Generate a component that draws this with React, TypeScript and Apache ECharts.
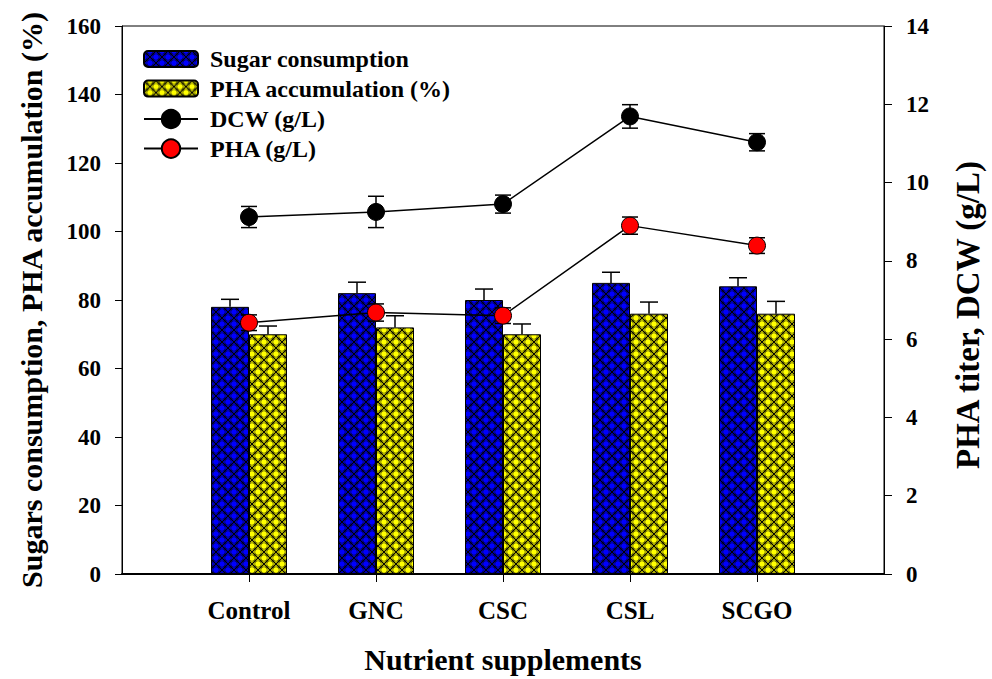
import React, { useEffect, useRef } from 'react';
import * as echarts from 'echarts';

const categories = ['Control', 'GNC', 'CSC', 'CSL', 'SCGO'];
const sugarConsumption = [78, 82, 80, 85, 84];
const sugarConsumptionErr = [2.2, 3.2, 3.2, 3.1, 2.5];
const phaAccumulation = [70, 72, 70, 76, 76];
const phaAccumulationErr = [2.4, 3.4, 3.0, 3.4, 3.6];
const dcw = [9.12, 9.25, 9.45, 11.69, 11.03];
const dcwErr = [0.27, 0.4, 0.23, 0.3, 0.22];
const phaTiter = [6.42, 6.68, 6.6, 8.9, 8.39];
const phaTiterErr = [0.2, 0.22, 0.2, 0.22, 0.2];

const barLegend = ['Sugar consumption', 'PHA accumulation (%)'];
const lineLegend = ['DCW (g/L)', 'PHA (g/L)'];

const leftAxis = { min: 0, max: 160, interval: 20 };
const rightAxis = { min: 0, max: 14, interval: 2 };

const FONT = 'Liberation Serif';

function makePattern(fill: string) {
  const k = 2;
  const s = 12 * k;
  const c = document.createElement('canvas');
  c.width = s;
  c.height = s;
  const ctx = c.getContext('2d')!;
  ctx.fillStyle = fill;
  ctx.fillRect(0, 0, s, s);
  ctx.strokeStyle = '#000';
  ctx.lineWidth = 1.2 * k;
  ctx.beginPath();
  ctx.moveTo(-k, -k);
  ctx.lineTo(s + k, s + k);
  ctx.moveTo(s + k, -k);
  ctx.lineTo(-k, s + k);
  ctx.stroke();
  ctx.lineWidth = 0.7 * k;
  ctx.strokeStyle = 'rgba(0,0,0,0.75)';
  const pts = [[s / 2, 0], [0, s / 2], [s, s / 2], [s / 2, s]];
  pts.forEach(([x, y]) => {
    ctx.beginPath();
    ctx.arc(x, y, 3.2 * k, 0, Math.PI * 2);
    ctx.stroke();
  });
  return { image: c, repeat: 'repeat', scaleX: 1 / k, scaleY: 1 / k };
}

const pad = (arr: number[]) => [null, ...arr, null];

function errRender(offset: number, capHalf: number, both: boolean) {
  return (params: any, api: any) => {
    const x = api.value(0);
    const y = api.value(1);
    const e = api.value(2);
    const pc = api.coord([x, y]);
    const top = api.coord([x, y + e]);
    const bot = api.coord([x, y - e]);
    const cx = pc[0] + offset;
    const style = { stroke: '#000', lineWidth: 1.5 };
    const children: any[] = [
      { type: 'line', shape: { x1: cx, y1: both ? bot[1] : pc[1], x2: cx, y2: top[1] }, style },
      { type: 'line', shape: { x1: cx - capHalf, y1: top[1], x2: cx + capHalf, y2: top[1] }, style },
    ];
    if (both) {
      children.push({ type: 'line', shape: { x1: cx - capHalf, y1: bot[1], x2: cx + capHalf, y2: bot[1] }, style });
    }
    return { type: 'group', children };
  };
}

const errData = (vals: number[], errs: number[]) => vals.map((v, i) => [i + 1, v, errs[i]]);

export default function App() {
  const ref = useRef<HTMLDivElement>(null);
  useEffect(() => {
    if (!ref.current) return;
    const chart = echarts.init(ref.current, null, { renderer: 'svg' });
    const blue = makePattern('#0000ff');
    const yellow = makePattern('#ffff00');
    const paddedCats = ['', ...categories, ''];
    const labelStyle = { fontFamily: FONT, fontWeight: 'bold', color: '#000' };
    const legendBase = {
      left: 138,
      orient: 'vertical',
      itemWidth: 54,
      itemGap: 5.6,
      textStyle: { ...labelStyle, fontSize: 24, padding: [0, 0, 0, 7] },
    };
    const option: any = {
      animation: false,
      textStyle: { fontFamily: FONT },
      grid: { left: 122, right: 107, top: 26, bottom: 102, show: true, borderColor: '#000', borderWidth: 1, containLabel: false },
      legend: [
        { ...legendBase, top: 42, itemHeight: 16, data: barLegend },
        { ...legendBase, top: 102, itemHeight: 23, data: lineLegend },
      ],
      xAxis: {
        type: 'category',
        data: paddedCats,
        boundaryGap: false,
        axisLine: { lineStyle: { color: '#000', width: 2 } },
        axisTick: { interval: (i: number) => i > 0 && i < paddedCats.length - 1, length: 8, lineStyle: { color: '#000', width: 1 } },
        axisLabel: { ...labelStyle, fontSize: 25, margin: 24, interval: 0 },
        splitLine: { show: false },
        name: 'Nutrient supplements',
        nameLocation: 'middle',
        nameGap: 70,
        nameTextStyle: { ...labelStyle, fontSize: 30 },
      },
      yAxis: [
        {
          type: 'value',
          position: 'left',
          ...leftAxis,
          axisLine: { show: true, lineStyle: { color: '#000', width: 1 } },
          axisTick: { show: true, length: 7, lineStyle: { color: '#000' } },
          axisLabel: { ...labelStyle, fontSize: 23, margin: 21 },
          splitLine: { show: false },
          name: 'Sugars consumption, PHA accumulation (%)',
          nameLocation: 'middle',
          nameRotate: 90,
          nameGap: 76,
          nameTextStyle: { ...labelStyle, fontSize: 30 },
        },
        {
          type: 'value',
          position: 'right',
          ...rightAxis,
          axisLine: { show: true, lineStyle: { color: '#000', width: 1 } },
          axisTick: { show: true, length: 8, lineStyle: { color: '#000' } },
          axisLabel: { ...labelStyle, fontSize: 23, margin: 22 },
          splitLine: { show: false },
          name: 'PHA titer, DCW (g/L)',
          nameLocation: 'middle',
          nameRotate: 90,
          nameGap: 67,
          nameTextStyle: { ...labelStyle, fontSize: 33, padding: [0, 30, 0, 0] },
        },
      ],
      series: [
        {
          name: barLegend[0],
          type: 'bar',
          yAxisIndex: 0,
          barWidth: 38,
          barGap: '0%',
          data: pad(sugarConsumption),
          itemStyle: { color: blue, borderColor: '#000', borderWidth: 1 },
          z: 2,
        },
        {
          name: barLegend[1],
          type: 'bar',
          yAxisIndex: 0,
          barWidth: 38,
          barGap: '0%',
          data: pad(phaAccumulation),
          itemStyle: { color: yellow, borderColor: '#000', borderWidth: 1 },
          z: 2,
        },
        {
          name: 'sugarErr',
          type: 'custom',
          yAxisIndex: 0,
          renderItem: errRender(-19, 9, false),
          data: errData(sugarConsumption, sugarConsumptionErr),
          encode: { x: 0, y: 1 },
          z: 3,
        },
        {
          name: 'phaAccErr',
          type: 'custom',
          yAxisIndex: 0,
          renderItem: errRender(19, 9, false),
          data: errData(phaAccumulation, phaAccumulationErr),
          encode: { x: 0, y: 1 },
          z: 3,
        },
        {
          name: 'dcwErr',
          type: 'custom',
          yAxisIndex: 1,
          renderItem: errRender(0, 8, true),
          data: errData(dcw, dcwErr),
          encode: { x: 0, y: 1 },
          z: 4,
        },
        {
          name: 'phaTiterErr',
          type: 'custom',
          yAxisIndex: 1,
          renderItem: errRender(0, 8, true),
          data: errData(phaTiter, phaTiterErr),
          encode: { x: 0, y: 1 },
          z: 4,
        },
        {
          name: lineLegend[0],
          type: 'line',
          yAxisIndex: 1,
          data: pad(dcw),
          symbol: 'circle',
          symbolSize: 17,
          lineStyle: { color: '#000', width: 1.5 },
          itemStyle: { color: '#000', borderColor: '#000', borderWidth: 1 },
          z: 5,
        },
        {
          name: lineLegend[1],
          type: 'line',
          yAxisIndex: 1,
          data: pad(phaTiter),
          symbol: 'circle',
          symbolSize: 17,
          lineStyle: { color: '#000', width: 1.5 },
          itemStyle: { color: '#ff0000', borderColor: '#000', borderWidth: 1 },
          z: 5,
        },
      ],
    };
    chart.setOption(option);
    return () => chart.dispose();
  }, []);
  return <div ref={ref} style={{ width: 992, height: 679, position: 'absolute', left: 0, top: 0 }} />;
}
